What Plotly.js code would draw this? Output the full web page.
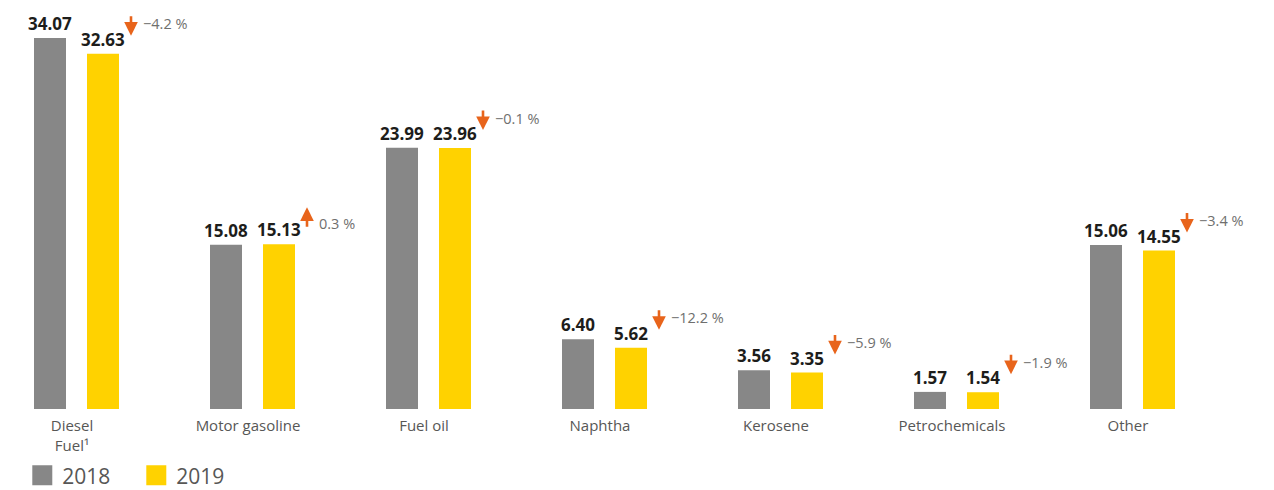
<!DOCTYPE html>
<html>
<head>
<meta charset="utf-8">
<script src="https://cdn.plot.ly/plotly-3.0.1.min.js"></script>
<style>body{margin:0;background:#fff;} #chart{width:1274px;height:490px;}</style>
</head>
<body>
<div id="chart"></div>
<script>
const categories = ["Diesel<br>Fuel\u00B9", "Motor gasoline", "Fuel oil", "Naphtha", "Kerosene", "Petrochemicals", "Other"];
const values2018 = [34.07, 15.08, 23.99, 6.40, 3.56, 1.57, 15.06];
const values2019 = [32.63, 15.13, 23.96, 5.62, 3.35, 1.54, 14.55];
const changeLabels = ["\u22124.2 %", "0.3 %", "\u22120.1 %", "\u221212.2 %", "\u22125.9 %", "\u22121.9 %", "\u22123.4 %"];
const changeDirections = ["down", "up", "down", "down", "down", "down", "down"];
const seriesNames = ["2018", "2019"];

const idx = categories.map((c, i) => i);
const UNIT = 176; // px per category
const GRAY = "#878787", YELLOW = "#FFD200", ORANGE = "#E8641B";
const BAR_W = 32 / UNIT, OFF18 = -38 / UNIT, OFF19 = 15 / UNIT;

const traces = [
  {type: "bar", name: seriesNames[0], x: idx, y: values2018, width: BAR_W, offset: OFF18,
   marker: {color: GRAY}, hoverinfo: "skip"},
  {type: "bar", name: seriesNames[1], x: idx, y: values2019, width: BAR_W, offset: OFF19,
   marker: {color: YELLOW}, hoverinfo: "skip"}
];

const labelFont = {family: "Open Sans", size: 17, color: "#1d1d1b", weight: 700};
const annotations = [];
idx.forEach(i => {
  // value labels
  [[values2018, OFF18], [values2019, OFF19]].forEach(([vals, off]) => {
    annotations.push({
      x: i + off + BAR_W / 2, y: vals[i], xref: "x", yref: "y", text: vals[i].toFixed(2),
      showarrow: false, xanchor: "center", yanchor: "bottom", yshift: 1, font: labelFont
    });
  });
  const down = changeDirections[i] === "down";
  annotations.push({
    x: i + 59/UNIT, y: values2019[i], xref: "x", yref: "y", text: "",
    showarrow: true, arrowhead: 2, arrowsize: 1.05, arrowwidth: 2.6, arrowcolor: ORANGE,
    ax: 0, ay: down ? -21 : 21, yshift: down ? 18 : 37, standoff: 0, startstandoff: 0
  });
  annotations.push({
    x: i + 69/UNIT, y: values2019[i], xref: "x", yref: "y", text: changeLabels[i],
    showarrow: false, xanchor: "left", yanchor: "middle", yshift: down ? 30 : 21,
    font: {family: "Open Sans", size: 14.5, color: "#6f6f6e"}
  });
});

const layout = {
  width: 1274, height: 490,
  margin: {l: 0, r: 0, t: 0, b: 81, autoexpand: false},
  paper_bgcolor: "#fff", plot_bgcolor: "#fff",
  barmode: "overlay",
  showlegend: true,
  legend: {orientation: "h", x: 0.0175, xanchor: "left", y: -0.163, yanchor: "middle",
           font: {family: "Open Sans", size: 21, color: "#575756"},
           entrywidth: 69, entrywidthmode: "pixels", traceorder: "normal"},
  xaxis: {range: [-72/UNIT, (1274-72)/UNIT], tickmode: "array", tickvals: idx, ticktext: categories,
          showgrid: false, zeroline: false, showline: false, ticks: "", ticklabelstandoff: 6,
          tickfont: {family: "Open Sans", size: 15, color: "#575756"}, fixedrange: true},
  yaxis: {range: [0, 409/10.89], visible: false, showgrid: false, zeroline: false, fixedrange: true},
  annotations: annotations,
  font: {family: "Open Sans"}
};

Plotly.newPlot("chart", traces, layout, {displayModeBar: false, staticPlot: true}).then(gd => {
  document.querySelectorAll("#chart .legendpoints path").forEach(p => p.setAttribute("d", "M10,10H-10V-10H10Z"));
});
</script>
</body>
</html>
